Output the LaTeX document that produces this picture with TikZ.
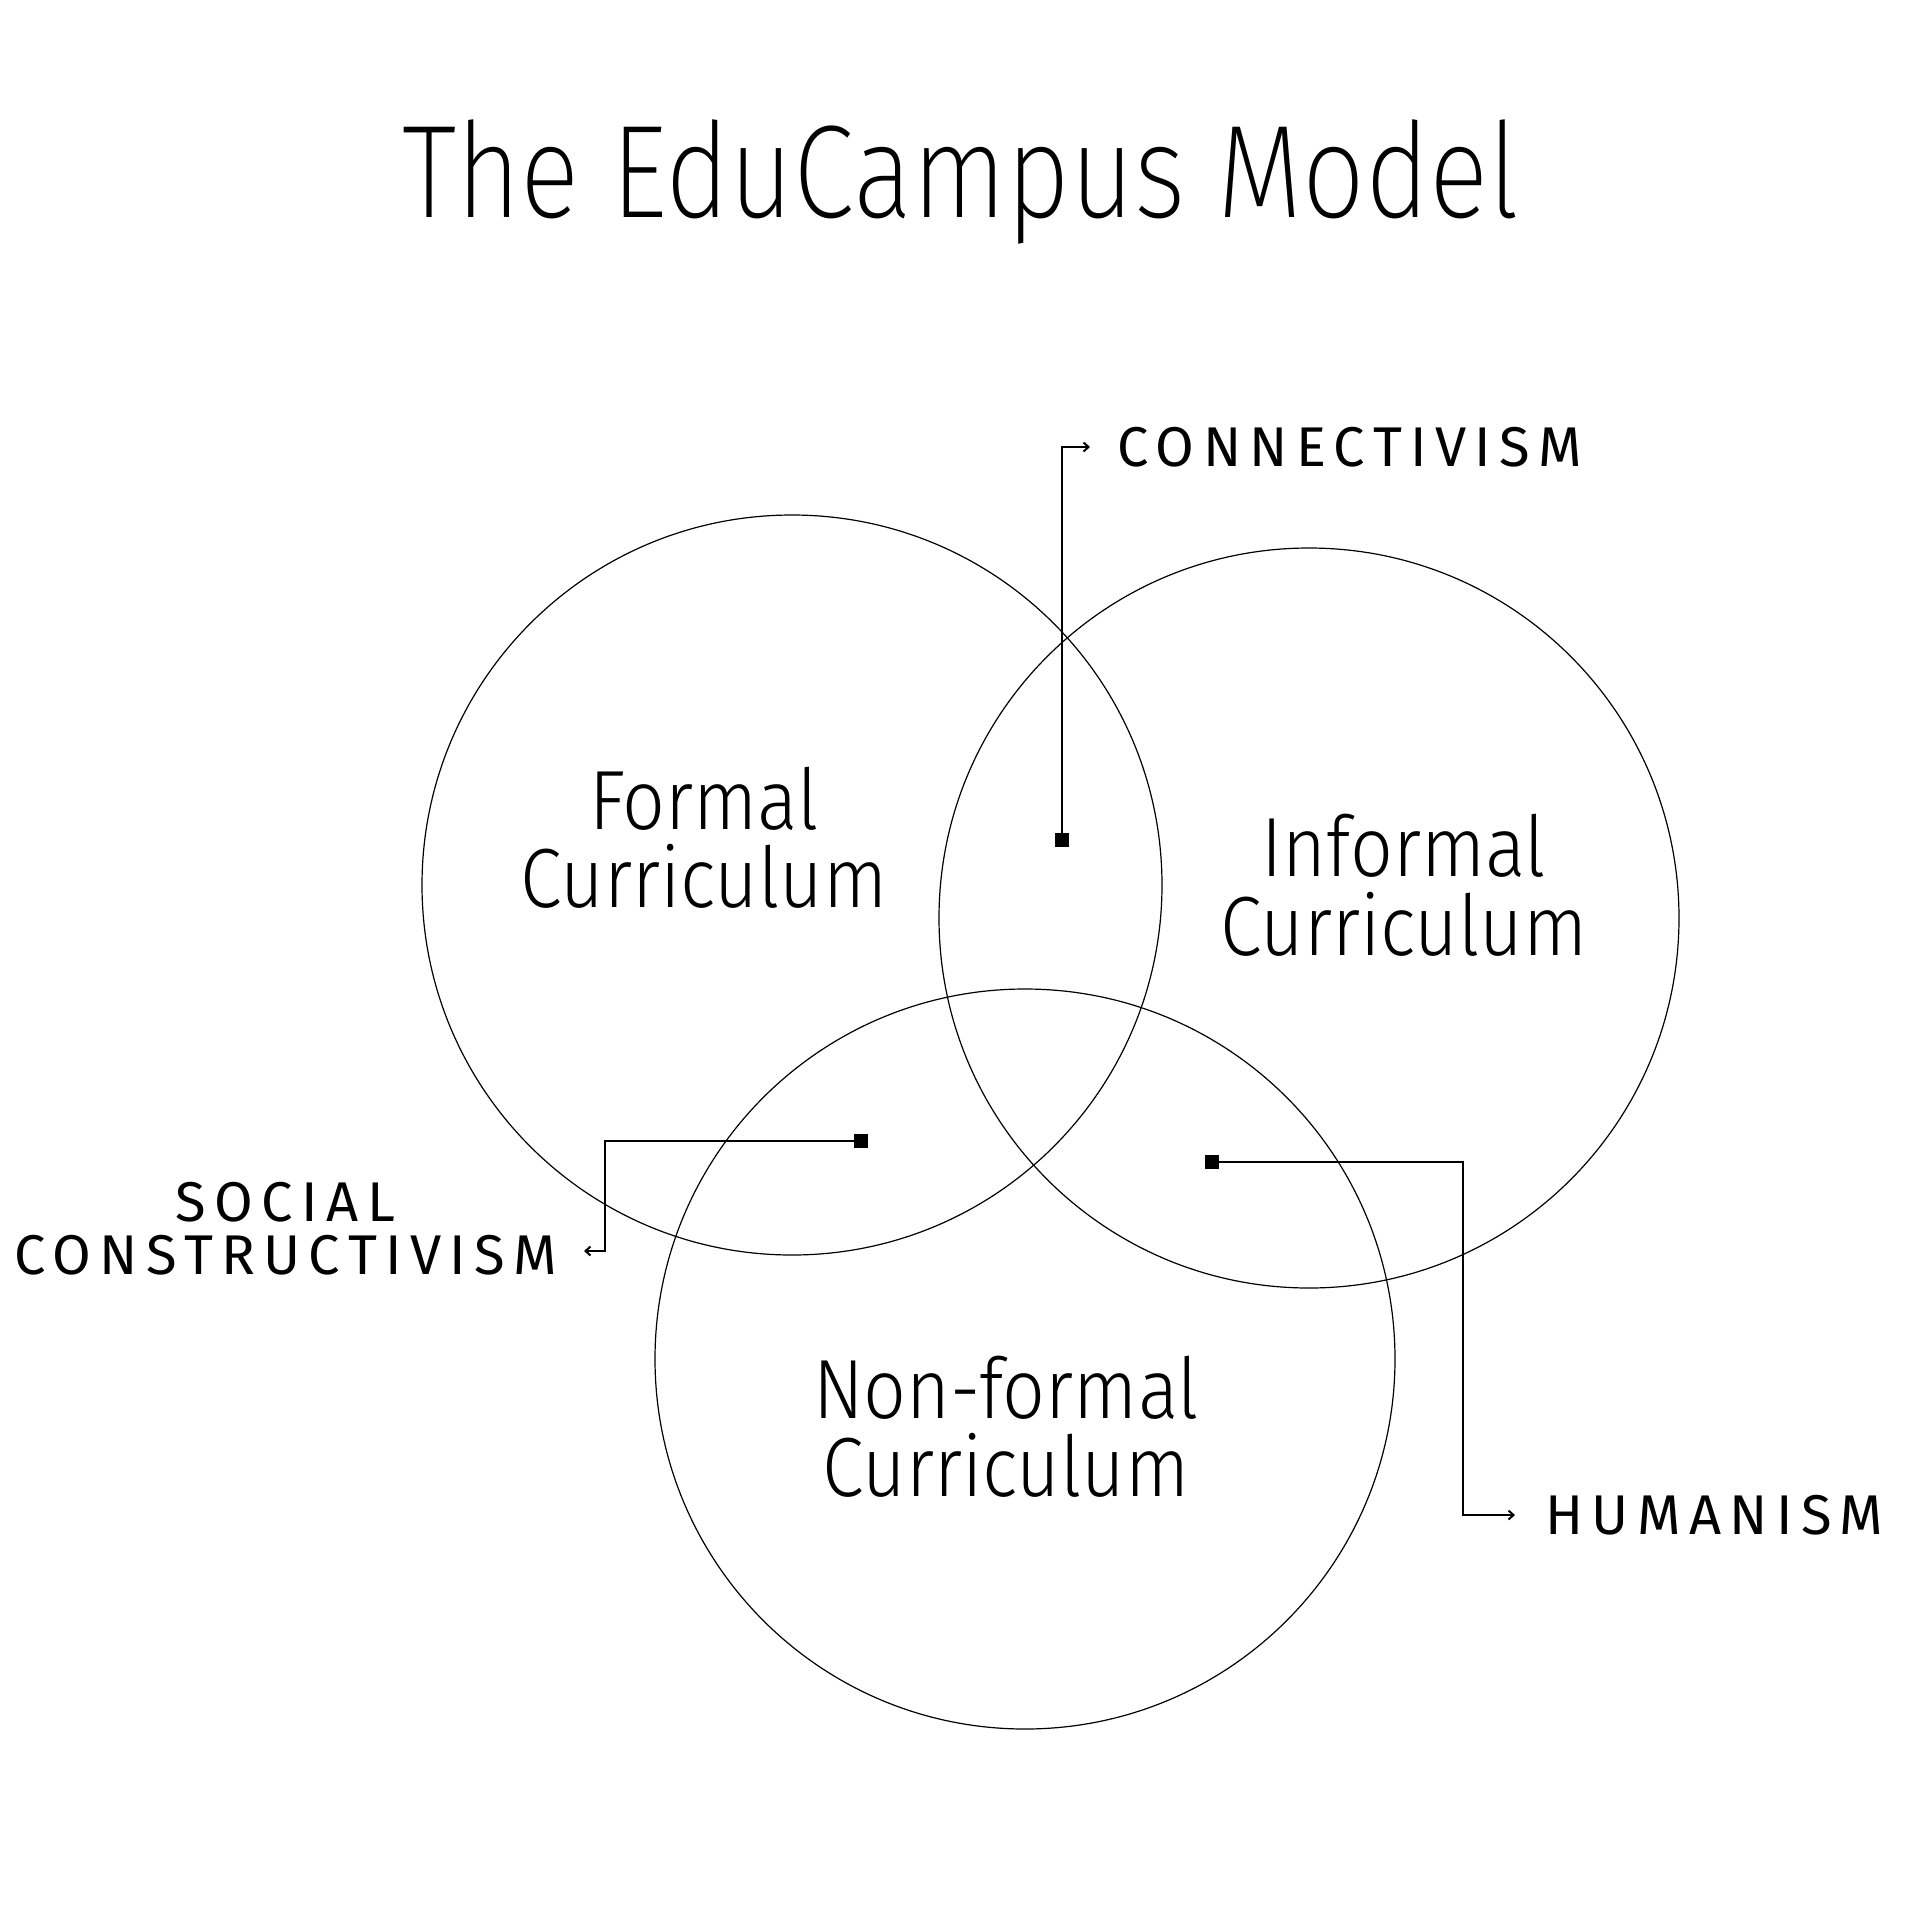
\documentclass[tikz,border=0pt]{standalone}
\usepackage{fontspec}
\setmainfont{Fira Sans Light}[FakeStretch=0.895]
\newfontfamily\titlefont{Fira Sans ExtraLight}[FakeStretch=0.84]
\newfontfamily\lblfont{Fira Sans}[LetterSpace=15]
\usetikzlibrary{arrows.meta}
\begin{document}
\begin{tikzpicture}[x=1pt,y=-1pt,
  ring/.style={draw, line width=1.2pt, circle, minimum size=740pt, inner sep=0pt},
  curr/.style={anchor=base, inner sep=0pt, font=\fontsize{84}{78}\selectfont},
  lbl/.style={inner ysep=0pt, inner xsep=0pt, font=\lblfont\fontsize{56}{60}\selectfont},
  marker/.style={fill=black, minimum size=14pt, inner sep=0pt},
  conn/.style={line width=2pt, -{Straight Barb[length=5pt,width=9pt]}}
]
\useasboundingbox[fill=white] (0,0) rectangle (1920,1920);
\node[anchor=base, inner sep=0pt, font=\titlefont\fontsize{132}{140}\selectfont] (title) at (961,217) {The EduCampus Model};

\node[ring] (formal) at (792,885) {};
\node[ring] (informal) at (1309,918) {};
\node[ring] (nonformal) at (1025,1359) {};

\node[curr] (f1) at (704,829) {Formal};
\node[curr] (f2) at (704,907) {Curriculum};
\node[curr] (i1) at (1404,876) {Informal};
\node[curr] (i2) at (1404,955) {Curriculum};
\node[curr] (n1) at (1006,1418) {Non-formal};
\node[curr] (n2) at (1006,1496) {Curriculum};

\node[marker] (m1) at (1062,840) {};
\node[marker] (m2) at (861,1141) {};
\node[marker] (m3) at (1212,1162) {};

\node[lbl, anchor=west] (connect) at (1117,447) {CONNECTIVISM};
\node[lbl, anchor=east] (soc2) at (557,1255) {CONSTRUCTIVISM};
\node[lbl, anchor=base] (soc1) at (soc2.north |- 0,1221) {SOCIAL};
\node[lbl, anchor=west] (human) at (1545,1515) {HUMANISM};

\coordinate (b2) at (605,1251);
\coordinate (e2) at (584,1251);
\draw[conn] (m1.center) |- ([xshift=-27pt]connect.west);
\draw[conn] (m2.center) -| (b2) -- (e2);
\draw[conn] (m3.center) -| ([xshift=-82pt]human.west) -- ([xshift=-30pt]human.west);
\end{tikzpicture}
\end{document}
